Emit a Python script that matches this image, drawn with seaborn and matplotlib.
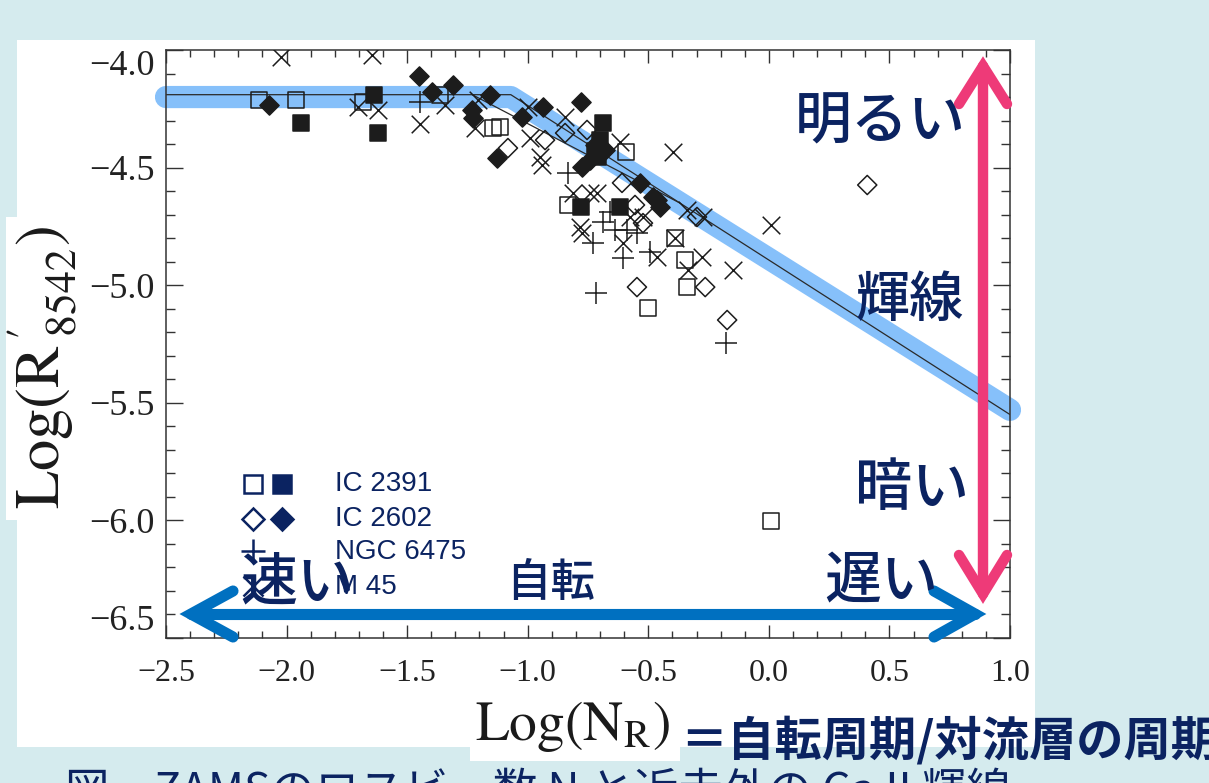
import matplotlib
matplotlib.use("Agg")
import matplotlib.pyplot as plt
import seaborn as sns
from matplotlib.lines import Line2D
from matplotlib.patches import Rectangle
from matplotlib.ticker import MultipleLocator, FuncFormatter

# ---------------- data ----------------
ic2391_open_x = [-2.114, -1.961, -1.683, -1.364, -1.144, -1.115, -0.592, -0.833,
                 -0.389, -0.347, -0.339, -0.501, 0.009]
ic2391_open_y = [-4.213, -4.213, -4.221, -4.191, -4.332, -4.327, -4.434, -4.659,
                 -4.799, -4.893, -5.008, -5.097, -6.003]

ic2391_fill_x = [-1.940, -1.637, -1.621, -0.687, -0.700, -0.708, -0.720, -0.779, -0.617]
ic2391_fill_y = [-4.310, -4.191, -4.353, -4.310, -4.383, -4.455, -4.430, -4.668, -4.668]

ic2602_open_x = [-1.082, -0.928, -0.845, -0.754, -0.609, -0.555, -0.522, -0.298,
                 -0.547, -0.264, -0.173, 0.408]
ic2602_open_y = [-4.417, -4.383, -4.353, -4.340, -4.565, -4.659, -4.736, -4.710,
                 -5.008, -5.008, -5.148, -4.574]

ic2602_fill_x = [-2.073, -1.451, -1.397, -1.310, -1.156, -1.231, -1.227, -1.127,
                 -1.023, -0.936, -0.779, -0.775, -0.721, -0.679, -0.741, -0.534,
                 -0.480, -0.464, -0.451]
ic2602_fill_y = [-4.234, -4.111, -4.179, -4.149, -4.191, -4.255, -4.289, -4.459,
                 -4.285, -4.242, -4.221, -4.497, -4.404, -4.425, -4.468, -4.565,
                 -4.625, -4.638, -4.668]

ngc6475_x = [-1.447, -0.833, -0.687, -0.658, -0.729, -0.638, -0.588, -0.605,
             -0.547, -0.493, -0.717, -0.177]
ngc6475_y = [-4.221, -4.523, -4.731, -4.689, -4.821, -4.765, -4.765, -4.884,
             -4.778, -4.859, -5.033, -5.246]

m45_x = [-2.023, -1.646, -1.704, -1.621, -1.447, -1.343, -1.206, -1.218, -0.999,
         -0.990, -0.949, -0.940, -0.845, -0.617, -0.397, -0.812, -0.741, -0.712,
         -0.783, -0.775, -0.605, -0.576, -0.522, -0.464, -0.389, -0.339, -0.273,
         -0.277, -0.335, -0.148, 0.009]
m45_y = [-4.030, -4.021, -4.242, -4.255, -4.315, -4.234, -4.213, -4.332, -4.242,
         -4.374, -4.455, -4.489, -4.285, -4.391, -4.434, -4.608, -4.608, -4.608,
         -4.753, -4.778, -4.821, -4.710, -4.710, -4.880, -4.799, -4.680, -4.710,
         -4.880, -4.935, -4.935, -4.744]

# saturated / unsaturated activity relation
fit_x = [-2.5, -1.07, 1.0]
fit_y = [-4.19, -4.19, -5.55]
fit2_x = [-1.23, -0.37]
fit2_y = [-4.19, -4.65]
band_x = [-2.5, -1.07, 1.0]
band_y = [-4.20, -4.20, -5.53]

x_ticks = [-2.5, -2.0, -1.5, -1.0, -0.5, 0.0, 0.5, 1.0]
y_ticks = [-6.5, -6.0, -5.5, -5.0, -4.5, -4.0]

legend_labels = ["IC 2391", "IC 2602", "NGC 6475", "M 45"]

# ---------------- style ----------------
sns.set_style("ticks")
plt.rcParams["font.family"] = ["Liberation Serif", "DejaVu Serif"]
plt.rcParams["mathtext.fontset"] = "stix"

NAVY = "#0B2361"
INK = "#1c1c1c"
JP = ["Noto Sans CJK JP", "DejaVu Sans"]

W, H = 1209, 783
fig = plt.figure(figsize=(W / 100, H / 100), dpi=100)
fig.patch.set_facecolor("#D5EBEE")


def fx(x):
    return x / W


def fy(y):
    return 1 - y / H


def panel(x0, y0, x1, y1):
    fig.add_artist(Rectangle((fx(x0), fy(y1)), fx(x1) - fx(x0), fy(y0) - fy(y1),
                             transform=fig.transFigure, facecolor="white",
                             edgecolor="none", zorder=-2))


panel(17, 40, 1035, 747)    # chart area
panel(6, 217, 60, 520)      # y-axis title strip
panel(470, 695, 680, 761)   # x-axis title strip

ax = fig.add_axes([fx(166), fy(638), fx(1010) - fx(166), fy(50) - fy(638)])
ax.set_facecolor("white")

# highlighted trend band and fitted relations
sns.lineplot(x=band_x, y=band_y, sort=False, estimator=None, ax=ax,
             color="#86C0FA", lw=16, solid_capstyle="round",
             solid_joinstyle="round", clip_on=False, zorder=1)
sns.lineplot(x=fit_x, y=fit_y, sort=False, estimator=None, ax=ax,
             color="#2a2a2a", lw=0.9, zorder=2)
sns.lineplot(x=fit2_x, y=fit2_y, sort=False, estimator=None, ax=ax,
             color="#2a2a2a", lw=0.9, zorder=2)

# cluster members
sns.scatterplot(x=ic2391_open_x, y=ic2391_open_y, marker="s", s=140,
                facecolor="none", edgecolor=INK, linewidth=1.1, ax=ax, zorder=3)
sns.scatterplot(x=ic2391_fill_x, y=ic2391_fill_y, marker="s", s=140,
                facecolor=INK, edgecolor=INK, linewidth=1.1, ax=ax, zorder=3)
sns.scatterplot(x=ic2602_open_x, y=ic2602_open_y, marker="D", s=95,
                facecolor="none", edgecolor=INK, linewidth=1.1, ax=ax, zorder=3)
sns.scatterplot(x=ic2602_fill_x, y=ic2602_fill_y, marker="D", s=95,
                facecolor=INK, edgecolor=INK, linewidth=1.1, ax=ax, zorder=3)
sns.scatterplot(x=ngc6475_x, y=ngc6475_y, marker="+", s=240,
                color=INK, linewidth=1.1, ax=ax, zorder=3)
sns.scatterplot(x=m45_x, y=m45_y, marker="x", s=160,
                color=INK, linewidth=1.1, ax=ax, zorder=3)

ax.set_xlim(-2.5, 1.0)
ax.set_ylim(-6.5, -4.0)
ax.set_xticks(x_ticks)
ax.set_yticks(y_ticks)
ax.xaxis.set_minor_locator(MultipleLocator(0.1))
ax.yaxis.set_minor_locator(MultipleLocator(0.1))


def fmt(v, _pos):
    if abs(v) < 1e-9:
        v = 0.0
    return f"{v:.1f}".replace("-", "\u2212")


ax.xaxis.set_major_formatter(FuncFormatter(fmt))
ax.yaxis.set_major_formatter(FuncFormatter(fmt))

for s in ax.spines.values():
    s.set_visible(True)
    s.set_color("#333333")
    s.set_linewidth(1.1)

ax.tick_params(which="both", direction="in", top=True, right=True,
               color="#333333", width=1.0, labelcolor="#222222")
ax.tick_params(axis="x", which="major", length=9.5, labelsize=23, pad=15)
ax.tick_params(axis="x", which="minor", length=5)
ax.tick_params(axis="y", which="major", length=12, labelsize=26, pad=8)
ax.tick_params(axis="y", which="minor", length=6.5)

ylabels = ax.get_yticklabels()
ylabels[0].set_va("bottom")
ylabels[-1].set_va("top")

ax.set_ylabel(r"$\mathrm{Log(R}^{\,\prime}_{\;8542}\mathrm{)}$", fontsize=45,
              color="#1a1a1a", va="center", ha="center", rotation_mode="default")
ax.yaxis.set_label_coords((42 - 166) / 844, (638 - 368) / 588)
ax.set_xlabel(r"$\mathrm{Log(N_R)}$", fontsize=40, color="#1a1a1a",
              va="center", ha="center")
ax.xaxis.set_label_coords((573 - 166) / 844, (638 - 727) / 588)

# legend (key glyphs and names)
def key(x, y, marker, ms, filled):
    fig.add_artist(Line2D([fx(x)], [fy(y)], transform=fig.transFigure,
                          marker=marker, ms=ms, mew=1.8, mec=NAVY,
                          mfc=NAVY if filled else "white", color=NAVY,
                          lw=0, zorder=5))


key(253, 484, "s", 13, False)
key(282, 484, "s", 13, True)
key(253, 519, "D", 11, False)
key(282, 519, "D", 11, True)
key(253, 551, "+", 17, True)
key(253, 586, "x", 14, True)
for lab, yy in zip(legend_labels, [484, 519, 552, 587]):
    fig.text(fx(335), fy(yy), lab, family="Liberation Sans", fontsize=20,
             color=NAVY, ha="left", va="center", zorder=5)


# arrows
def stroke(pts, color, lw):
    fig.add_artist(Line2D([fx(p[0]) for p in pts], [fy(p[1]) for p in pts],
                          transform=fig.transFigure, color=color, lw=lw,
                          solid_capstyle="round", solid_joinstyle="miter",
                          zorder=7))


PINK = "#EE3A78"
BLUE = "#0070C0"
stroke([(983, 66), (983, 594)], PINK, 7.5)
stroke([(959, 104), (983, 66), (1007, 104)], PINK, 7.5)
stroke([(959, 555), (983, 594), (1007, 555)], PINK, 7.5)
stroke([(191, 614), (975, 614)], BLUE, 8)
stroke([(233, 591), (191, 614), (233, 637)], BLUE, 8)
stroke([(934, 591), (975, 614), (934, 637)], BLUE, 8)

# annotations
def jp(x, y, s, size, weight="medium", ha="center"):
    fig.text(fx(x), fy(y), s, family=JP, fontsize=size, color=NAVY,
             ha=ha, va="center", weight=weight, zorder=8)


jp(880, 122, "明るい", 41)
jp(910, 300, "輝線", 39)
jp(912, 489, "暗い", 41)
jp(881, 582, "遅い", 41)
jp(297, 583, "速い", 41)
jp(551, 583, "自転", 32)
jp(680, 741, "＝自転周期/対流層の周期", 34, weight="bold", ha="left")

fig.text(fx(65), fy(769), "図　ZAMSのロスビー数 N と近赤外の Ca II 輝線",
         family=JP, fontsize=32, color=NAVY, ha="left", va="top", zorder=8)

fig.savefig("out.png", dpi=100)
